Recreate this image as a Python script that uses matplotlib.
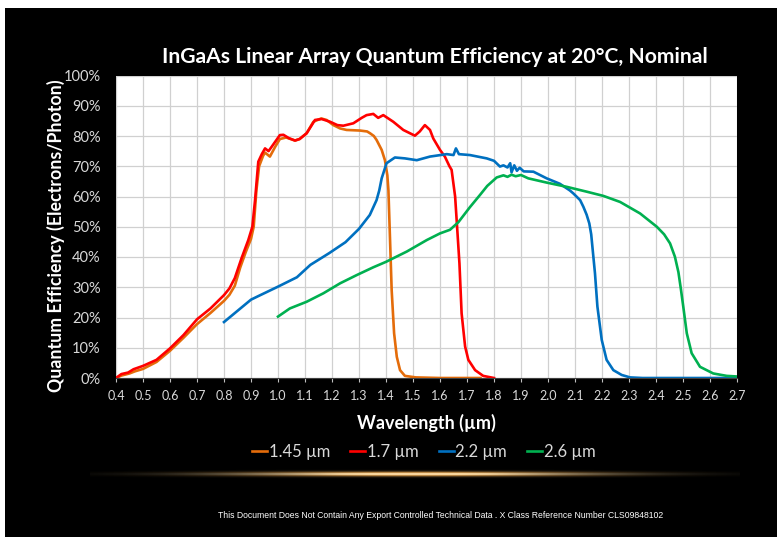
import matplotlib
matplotlib.use('Agg')
import matplotlib.pyplot as plt
from matplotlib.patches import Rectangle
import numpy as np

# 1.45 um cutoff
wl_145 = [0.40, 0.42, 0.45, 0.47, 0.50, 0.55, 0.60, 0.65, 0.70, 0.75, 0.80, 0.82, 0.84, 0.86,
          0.88, 0.90, 0.91, 0.92, 0.93, 0.945, 0.952, 0.97, 0.99, 1.007, 1.03, 1.063, 1.08,
          1.106, 1.131, 1.16, 1.18, 1.205, 1.23, 1.254, 1.304, 1.33, 1.341, 1.355, 1.365,
          1.384, 1.396, 1.405, 1.409, 1.415, 1.421, 1.43, 1.44, 1.452, 1.47, 1.51, 1.60, 1.75]
qe_145 = [0.0, 0.8, 1.5, 2.2, 3.0, 5.3, 9.0, 13.3, 17.8, 21.5, 25.5, 27.5, 30.5, 36.5,
          41.5, 46.0, 50.0, 62.0, 70.0, 73.5, 74.5, 73.2, 76.5, 79.0, 79.5, 78.5, 79.0,
          80.9, 84.7, 85.8, 85.3, 83.6, 82.5, 82.0, 81.8, 81.5, 80.9, 80.0, 78.7,
          75.4, 72.0, 67.0, 62.0, 45.6, 29.0, 14.8, 7.0, 2.6, 0.7, 0.2, 0.0, 0.0]

# 1.7 um cutoff
wl_17 = [0.40, 0.42, 0.445, 0.465, 0.50, 0.55, 0.60, 0.65, 0.70, 0.75, 0.80, 0.82, 0.84,
         0.865, 0.89, 0.905, 0.915, 0.927, 0.94, 0.952, 0.965, 0.977, 1.007, 1.02, 1.04,
         1.063, 1.08, 1.106, 1.137, 1.162, 1.193, 1.22, 1.242, 1.279, 1.31, 1.328, 1.353,
         1.371, 1.39, 1.427, 1.464, 1.507, 1.525, 1.544, 1.563, 1.575, 1.60, 1.618, 1.635,
         1.643, 1.656, 1.664, 1.672, 1.68, 1.693, 1.705, 1.73, 1.76, 1.80]
qe_17 = [0.0, 1.3, 1.8, 2.9, 4.0, 6.0, 9.8, 14.2, 19.4, 23.0, 27.4, 29.6, 33.0,
         39.6, 45.6, 50.0, 58.8, 71.5, 74.0, 75.9, 75.0, 76.5, 80.3, 80.4, 79.3,
         78.5, 79.0, 80.9, 85.3, 85.6, 84.7, 83.6, 83.4, 84.2, 86.0, 86.9, 87.3,
         86.0, 86.9, 84.7, 82.0, 80.1, 81.5, 83.6, 82.0, 79.2, 75.4, 73.2, 70.0,
         68.8, 60.0, 49.0, 37.9, 21.4, 10.4, 6.0, 2.6, 0.7, 0.0]

# 2.2 um cutoff
wl_22 = [0.80, 0.85, 0.90, 0.93, 1.00, 1.07, 1.12, 1.19, 1.25, 1.30, 1.34, 1.365, 1.375,
         1.384, 1.402, 1.433, 1.47, 1.514, 1.563, 1.625, 1.65, 1.659, 1.67, 1.711, 1.773,
         1.80, 1.822, 1.835, 1.85, 1.86, 1.865, 1.875, 1.885, 1.895, 1.91, 1.946, 1.995,
         2.044, 2.081, 2.094, 2.119, 2.131, 2.143, 2.153, 2.16, 2.168, 2.174, 2.183, 2.199,
         2.217, 2.242, 2.273, 2.304, 2.35, 2.70]
qe_22 = [18.5, 22.2, 25.9, 27.2, 30.2, 33.3, 37.4, 41.3, 44.9, 49.3, 53.9, 58.8, 62.0,
         66.0, 71.0, 72.9, 72.6, 72.0, 73.2, 74.0, 73.7, 75.9, 74.0, 73.7, 72.6,
         71.8, 69.9, 70.3, 69.6, 71.0, 68.0, 70.3, 68.5, 69.5, 68.3, 68.2, 66.0,
         64.2, 62.0, 61.0, 58.8, 56.6, 54.0, 51.1, 47.5, 40.1, 34.6, 23.6, 12.6,
         6.0, 2.6, 1.0, 0.2, 0.0, 0.0]

# 2.6 um cutoff
wl_26 = [1.00, 1.044, 1.106, 1.168, 1.23, 1.291, 1.353, 1.40, 1.477, 1.551, 1.60, 1.637,
         1.668, 1.711, 1.748, 1.775, 1.81, 1.835, 1.85, 1.865, 1.88, 1.90, 1.927, 1.995,
         2.069, 2.143, 2.205, 2.267, 2.341, 2.403, 2.43, 2.452, 2.47, 2.483, 2.492, 2.501,
         2.514, 2.532, 2.563, 2.612, 2.662, 2.70]
qe_26 = [20.3, 23.0, 25.2, 28.0, 31.3, 34.0, 36.6, 38.4, 41.8, 45.6, 47.8, 49.0,
         51.5, 56.5, 60.5, 63.5, 66.3, 67.0, 66.5, 67.2, 66.7, 67.1, 66.0, 64.6,
         63.2, 61.6, 60.2, 58.2, 54.4, 50.0, 47.5, 44.5, 40.1, 35.0, 29.5, 23.6,
         14.8, 8.2, 3.7, 1.5, 0.7, 0.5]

series = [
    ('1.45 µm', wl_145, qe_145, '#E46C0A'),
    ('1.7 µm', wl_17, qe_17, '#FF0000'),
    ('2.2 µm', wl_22, qe_22, '#0070C0'),
    ('2.6 µm', wl_26, qe_26, '#00B050'),
]

W, H = 782, 537
fig = plt.figure(figsize=(W / 100, H / 100), dpi=100, facecolor='white')
# black slide background with thin white margin top / sides
fig.patches.append(Rectangle((5 / W, 0), (W - 10) / W, (H - 8) / H,
                             transform=fig.transFigure, facecolor='black',
                             edgecolor='none', zorder=-10))

ax = fig.add_axes([116 / W, 1 - 378 / H, (737 - 116) / W, (378 - 75.5) / H])
ax.set_facecolor('white')
for name, x, y, c in series:
    ax.plot(x, y, color=c, lw=1.9, label=name, solid_joinstyle='round')

ax.set_xlim(0.4, 2.7)
ax.set_ylim(0, 100)
ax.set_xticks(np.round(np.arange(0.4, 2.71, 0.1), 1))
ax.set_xticklabels(['%.1f' % v for v in np.arange(0.4, 2.71, 0.1)])
ax.set_yticks(range(0, 101, 10))
ax.set_yticklabels(['%d%%' % v for v in range(0, 101, 10)])
ax.grid(True, color='#d0d0d0', lw=0.9)
ax.set_axisbelow(True)
for s in ['top', 'right', 'left']:
    ax.spines[s].set_visible(False)
ax.spines['bottom'].set_color('#404040')
ax.tick_params(axis='x', colors='#bfbfbf', length=3, width=0.8, pad=6,
               labelsize=9, labelcolor='#d9d9d9')
ax.tick_params(axis='y', length=0, pad=11, labelsize=10.5, labelcolor='#d9d9d9')
for lab in ax.get_xticklabels() + ax.get_yticklabels():
    lab.set_family('Lato')

ax.set_xlabel('Wavelength (µm)', color='white', fontsize=13, fontweight='bold',
              family='Lato', labelpad=8)
ax.set_ylabel('Quantum Efficiency (Electrons/Photon)', color='white', fontsize=12.8,
              fontweight='bold', family='Lato')
ax.yaxis.set_label_coords(-0.082, 0.47)

fig.text(435 / W, 1 - 57 / H, 'InGaAs Linear Array Quantum Efficiency at 20°C, Nominal',
         color='white', fontsize=15.2, fontweight='bold', family='Lato',
         ha='center', va='center')

leg = fig.legend(loc='center', bbox_to_anchor=(424 / W, 1 - 452 / H), ncol=4,
                 frameon=False, handlelength=0.9, handletextpad=0.1,
                 columnspacing=1.2, prop={'family': 'Lato', 'size': 12},
                 labelcolor='#d9d9d9')

# golden glow line
gax = fig.add_axes([90 / W, 1 - 482 / H, 650 / W, 16 / H])
gx = np.linspace(-1, 1, 400)
gy = np.linspace(-1, 1, 32)
ax_alpha = np.exp(-(gx / 0.55) ** 2)
ay_alpha = np.exp(-(gy / 0.28) ** 2)
core = np.exp(-(gy / 0.09) ** 2)
img = np.zeros((len(gy), len(gx), 4))
img[..., 0] = 1.0
img[..., 1] = (0.72 + 0.25 * core)[:, None]
img[..., 2] = (0.35 + 0.5 * core)[:, None]
img[..., 3] = np.clip(np.outer(ay_alpha, ax_alpha) * 1.2, 0, 1)
gax.imshow(img, aspect='auto', interpolation='bilinear')
gax.axis('off')

fig.text(441 / W, 1 - 515 / H,
         'This Document Does Not Contain Any Export Controlled Technical Data . X Class Reference Number CLS09848102',
         color='white', fontsize=6.2, family=['Liberation Sans Narrow', 'Liberation Sans'],
         ha='center', va='center')

fig.savefig('out.png', dpi=100, facecolor=fig.get_facecolor())
